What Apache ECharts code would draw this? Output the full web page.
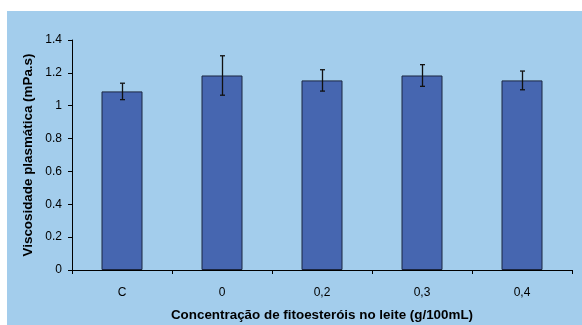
<!DOCTYPE html>
<html><head><meta charset="utf-8">
<script src="https://cdn.jsdelivr.net/npm/echarts@6/dist/echarts.min.js"></script>
<style>html,body{margin:0;padding:0;background:#fff}#c{width:582px;height:325px}</style>
</head><body><div id="c"></div>
<script>
const categories = ['C', '0', '0,2', '0,3', '0,4'];
const means = [1.087, 1.184, 1.154, 1.184, 1.154];
const errors = [0.05, 0.12, 0.065, 0.066, 0.057];
const yTicks = [0, 0.2, 0.4, 0.6, 0.8, 1, 1.2, 1.4];

const chart = echarts.init(document.getElementById('c'), null, {renderer: 'canvas'});
const font = 'Liberation Sans, Arial, sans-serif';
chart.setOption({
  backgroundColor: '#ffffff',
  animation: false,
  graphic: [{type: 'rect', z: -10, shape: {x: 7, y: 11, width: 575, height: 314}, style: {fill: '#A3CDEC'}}],
  grid: {left: 72, right: 10, top: 40, bottom: 55, containLabel: false, outerBoundsMode: 'none'},
  xAxis: {
    type: 'category', data: categories,
    name: 'Concentração de fitoesteróis no leite (g/100mL)',
    nameLocation: 'middle', nameGap: 39,
    nameTextStyle: {fontFamily: font, fontSize: 13.4, fontWeight: 'bold', color: '#000'},
    axisLine: {lineStyle: {color: '#000', width: 1}},
    axisTick: {show: true, length: 4, lineStyle: {color: '#000'}},
    axisLabel: {fontFamily: font, fontSize: 12, color: '#000', margin: 17}
  },
  yAxis: {
    type: 'value', min: yTicks[0], max: yTicks[yTicks.length - 1], interval: 0.2,
    name: 'Viscosidade plasmática (mPa.s)',
    nameLocation: 'middle', nameGap: 36,
    nameTextStyle: {fontFamily: font, fontSize: 13.4, fontWeight: 'bold', color: '#000'},
    axisLine: {show: true, lineStyle: {color: '#000', width: 1}},
    axisTick: {show: true, length: 4, lineStyle: {color: '#000'}},
    splitLine: {show: false},
    axisLabel: {fontFamily: font, fontSize: 12, color: '#000', margin: 10,
      formatter: v => String(Math.round(v * 10) / 10)}
  },
  series: [
    {
      type: 'bar', data: means, barWidth: 41,
      itemStyle: {color: '#4666B0', borderColor: '#1B2640', borderWidth: 1}
    },
    {
      type: 'custom', z: 5,
      data: means.map((m, i) => [i, m - errors[i], m + errors[i]]),
      renderItem: function (params, api) {
        const lo = api.coord([api.value(0), api.value(1)]);
        const hi = api.coord([api.value(0), api.value(2)]);
        const x = Math.round(lo[0]) + 0.5;
        const cw = 2.5;
        const st = {stroke: '#111', lineWidth: 1.3};
        return {type: 'group', children: [
          {type: 'line', shape: {x1: x, y1: hi[1], x2: x, y2: lo[1]}, style: st},
          {type: 'line', shape: {x1: x - cw, y1: hi[1], x2: x + cw, y2: hi[1]}, style: st},
          {type: 'line', shape: {x1: x - cw, y1: lo[1], x2: x + cw, y2: lo[1]}, style: st}
        ]};
      }
    }
  ]
});
</script></body></html>
